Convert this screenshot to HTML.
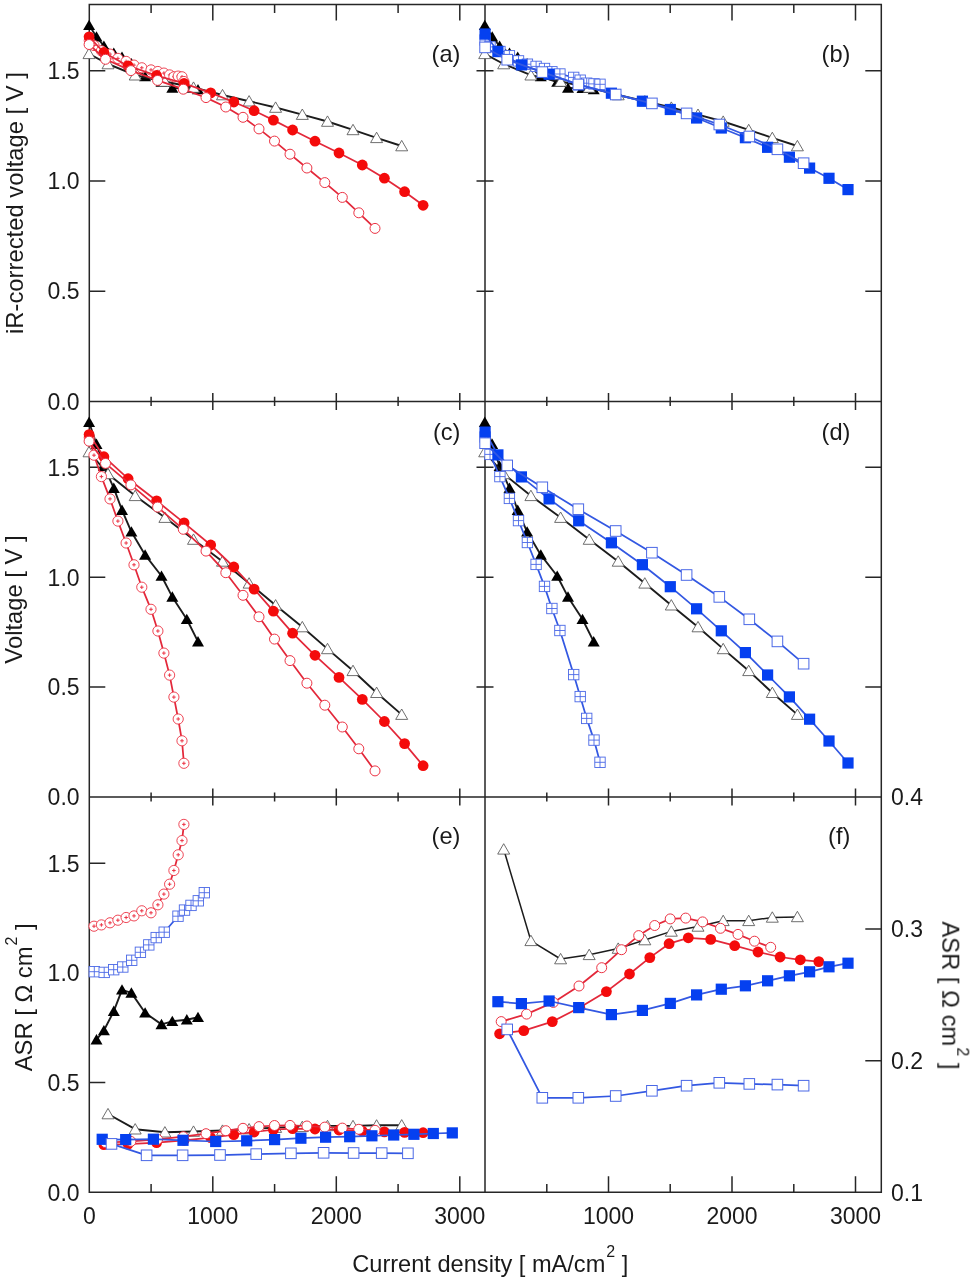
<!DOCTYPE html>
<html><head><meta charset="utf-8"><title>Polarization curves</title>
<style>html,body{margin:0;padding:0;background:#fff}svg{display:block}text{font-family:"Liberation Sans",sans-serif}</style></head>
<body><svg width="971" height="1280" viewBox="0 0 971 1280">
<defs><filter id="soft" x="0" y="0" width="100%" height="100%" filterUnits="userSpaceOnUse" color-interpolation-filters="sRGB"><feGaussianBlur stdDeviation="0.45"/></filter></defs>
<g filter="url(#soft)">
<rect x="0" y="0" width="971" height="1280" fill="#fff"/>
<path d="M89.3 4.6L881.3 4.6M89.3 401.4L881.3 401.4M89.3 797.0L881.3 797.0M89.3 1192.2L881.3 1192.2M89.3 3.8L89.3 1193.0M485.0 4.6L485.0 1192.2M881.3 3.8L881.3 1193.0M151.1 4.6L151.1 12.9M151.1 1192.2L151.1 1183.9M151.1 396.8L151.1 406.0M151.1 792.4L151.1 801.6M212.8 4.6L212.8 20.6M212.8 1192.2L212.8 1176.2M212.8 392.9L212.8 409.9M212.8 788.5L212.8 805.5M274.6 4.6L274.6 12.9M274.6 1192.2L274.6 1183.9M274.6 396.8L274.6 406.0M274.6 792.4L274.6 801.6M336.3 4.6L336.3 20.6M336.3 1192.2L336.3 1176.2M336.3 392.9L336.3 409.9M336.3 788.5L336.3 805.5M398.1 4.6L398.1 12.9M398.1 1192.2L398.1 1183.9M398.1 396.8L398.1 406.0M398.1 792.4L398.1 801.6M459.8 4.6L459.8 20.6M459.8 1192.2L459.8 1176.2M459.8 392.9L459.8 409.9M459.8 788.5L459.8 805.5M546.8 4.6L546.8 12.9M546.8 1192.2L546.8 1183.9M546.8 396.8L546.8 406.0M546.8 792.4L546.8 801.6M608.5 4.6L608.5 20.6M608.5 1192.2L608.5 1176.2M608.5 392.9L608.5 409.9M608.5 788.5L608.5 805.5M670.2 4.6L670.2 12.9M670.2 1192.2L670.2 1183.9M670.2 396.8L670.2 406.0M670.2 792.4L670.2 801.6M732.0 4.6L732.0 20.6M732.0 1192.2L732.0 1176.2M732.0 392.9L732.0 409.9M732.0 788.5L732.0 805.5M793.8 4.6L793.8 12.9M793.8 1192.2L793.8 1183.9M793.8 396.8L793.8 406.0M793.8 792.4L793.8 801.6M855.5 4.6L855.5 20.6M855.5 1192.2L855.5 1176.2M855.5 392.9L855.5 409.9M855.5 788.5L855.5 805.5M89.3 291.2L105.3 291.2M476.5 291.2L493.5 291.2M865.3 291.2L881.3 291.2M89.3 181.0L105.3 181.0M476.5 181.0L493.5 181.0M865.3 181.0L881.3 181.0M89.3 70.8L105.3 70.8M476.5 70.8L493.5 70.8M865.3 70.8L881.3 70.8M89.3 687.1L105.3 687.1M476.5 687.1L493.5 687.1M865.3 687.1L881.3 687.1M89.3 577.2L105.3 577.2M476.5 577.2L493.5 577.2M865.3 577.2L881.3 577.2M89.3 467.3L105.3 467.3M476.5 467.3L493.5 467.3M865.3 467.3L881.3 467.3M89.3 1082.5L105.3 1082.5M89.3 972.9L105.3 972.9M89.3 863.2L105.3 863.2M865.3 1060.7L881.3 1060.7M865.3 928.9L881.3 928.9" stroke="#262626" stroke-width="1.5" fill="none"/>
<g>
<polyline fill="none" stroke="#1c1c1c" stroke-width="1.90" stroke-linejoin="round" points="89.1,25.3 96.5,36.8 103.9,46.0 113.8,53.0 122.0,57.0 131.4,63.5 145.1,76.5 161.5,82.0 172.3,88.0 186.8,88.3 198.0,89.5"/><path d="M89.1 19.7L95.1 30.1L83.1 30.1Z" fill="#000"/><path d="M96.5 31.2L102.5 41.6L90.5 41.6Z" fill="#000"/><path d="M103.9 40.4L109.9 50.8L97.9 50.8Z" fill="#000"/><path d="M113.8 47.4L119.8 57.8L107.8 57.8Z" fill="#000"/><path d="M122.0 51.4L128.0 61.8L116.0 61.8Z" fill="#000"/><path d="M131.4 57.9L137.4 68.3L125.4 68.3Z" fill="#000"/><path d="M145.1 70.9L151.1 81.3L139.1 81.3Z" fill="#000"/><path d="M161.5 76.4L167.5 86.8L155.5 86.8Z" fill="#000"/><path d="M172.3 82.4L178.3 92.8L166.3 92.8Z" fill="#000"/><path d="M186.8 82.7L192.8 93.1L180.8 93.1Z" fill="#000"/><path d="M198.0 83.9L204.0 94.3L192.0 94.3Z" fill="#000"/>
<polyline fill="none" stroke="#1c1c1c" stroke-width="1.90" stroke-linejoin="round" points="89.0,53.8 108.0,64.0 135.2,75.2 164.9,81.5 193.5,87.5 222.5,95.0 249.1,101.2 275.6,107.5 302.3,114.6 327.5,121.5 353.0,129.9 376.6,137.8 401.7,146.0"/><path d="M89.0 48.2L95.0 58.6L83.0 58.6Z" fill="#fff" stroke="#555" stroke-width="0.85"/><path d="M108.0 58.4L114.0 68.8L102.0 68.8Z" fill="#fff" stroke="#555" stroke-width="0.85"/><path d="M135.2 69.6L141.2 80.0L129.2 80.0Z" fill="#fff" stroke="#555" stroke-width="0.85"/><path d="M164.9 75.9L170.9 86.3L158.9 86.3Z" fill="#fff" stroke="#555" stroke-width="0.85"/><path d="M193.5 81.9L199.5 92.3L187.5 92.3Z" fill="#fff" stroke="#555" stroke-width="0.85"/><path d="M222.5 89.4L228.5 99.8L216.5 99.8Z" fill="#fff" stroke="#555" stroke-width="0.85"/><path d="M249.1 95.6L255.1 106.0L243.1 106.0Z" fill="#fff" stroke="#555" stroke-width="0.85"/><path d="M275.6 101.9L281.6 112.3L269.6 112.3Z" fill="#fff" stroke="#555" stroke-width="0.85"/><path d="M302.3 109.0L308.3 119.4L296.3 119.4Z" fill="#fff" stroke="#555" stroke-width="0.85"/><path d="M327.5 115.9L333.5 126.3L321.5 126.3Z" fill="#fff" stroke="#555" stroke-width="0.85"/><path d="M353.0 124.3L359.0 134.7L347.0 134.7Z" fill="#fff" stroke="#555" stroke-width="0.85"/><path d="M376.6 132.2L382.6 142.6L370.6 142.6Z" fill="#fff" stroke="#555" stroke-width="0.85"/><path d="M401.7 140.4L407.7 150.8L395.7 150.8Z" fill="#fff" stroke="#555" stroke-width="0.85"/>
<polyline fill="none" stroke="#e3283a" stroke-width="1.75" stroke-linejoin="round" points="89.3,40.5 94.0,45.5 101.4,50.8 110.0,54.1 117.9,58.4 126.1,61.4 134.0,65.1 141.8,67.8 151.0,69.9 157.9,71.5 163.9,73.1 169.6,74.9 173.9,76.8 178.2,76.1 182.0,76.8 183.9,81.5"/><circle cx="89.3" cy="40.5" r="5.1" fill="#fff" stroke="#ec3344" stroke-width="0.9"/><path d="M87.5 40.5h3.6M89.3 38.7v3.6" stroke="#ec3344" stroke-width="1" fill="none"/><circle cx="94.0" cy="45.5" r="5.1" fill="#fff" stroke="#ec3344" stroke-width="0.9"/><path d="M92.2 45.5h3.6M94.0 43.7v3.6" stroke="#ec3344" stroke-width="1" fill="none"/><circle cx="101.4" cy="50.8" r="5.1" fill="#fff" stroke="#ec3344" stroke-width="0.9"/><path d="M99.6 50.8h3.6M101.4 49.0v3.6" stroke="#ec3344" stroke-width="1" fill="none"/><circle cx="110.0" cy="54.1" r="5.1" fill="#fff" stroke="#ec3344" stroke-width="0.9"/><path d="M108.2 54.1h3.6M110.0 52.3v3.6" stroke="#ec3344" stroke-width="1" fill="none"/><circle cx="117.9" cy="58.4" r="5.1" fill="#fff" stroke="#ec3344" stroke-width="0.9"/><path d="M116.1 58.4h3.6M117.9 56.6v3.6" stroke="#ec3344" stroke-width="1" fill="none"/><circle cx="126.1" cy="61.4" r="5.1" fill="#fff" stroke="#ec3344" stroke-width="0.9"/><path d="M124.3 61.4h3.6M126.1 59.6v3.6" stroke="#ec3344" stroke-width="1" fill="none"/><circle cx="134.0" cy="65.1" r="5.1" fill="#fff" stroke="#ec3344" stroke-width="0.9"/><path d="M132.2 65.1h3.6M134.0 63.3v3.6" stroke="#ec3344" stroke-width="1" fill="none"/><circle cx="141.8" cy="67.8" r="5.1" fill="#fff" stroke="#ec3344" stroke-width="0.9"/><path d="M140.0 67.8h3.6M141.8 66.0v3.6" stroke="#ec3344" stroke-width="1" fill="none"/><circle cx="151.0" cy="69.9" r="5.1" fill="#fff" stroke="#ec3344" stroke-width="0.9"/><path d="M149.2 69.9h3.6M151.0 68.1v3.6" stroke="#ec3344" stroke-width="1" fill="none"/><circle cx="157.9" cy="71.5" r="5.1" fill="#fff" stroke="#ec3344" stroke-width="0.9"/><path d="M156.1 71.5h3.6M157.9 69.7v3.6" stroke="#ec3344" stroke-width="1" fill="none"/><circle cx="163.9" cy="73.1" r="5.1" fill="#fff" stroke="#ec3344" stroke-width="0.9"/><path d="M162.1 73.1h3.6M163.9 71.3v3.6" stroke="#ec3344" stroke-width="1" fill="none"/><circle cx="169.6" cy="74.9" r="5.1" fill="#fff" stroke="#ec3344" stroke-width="0.9"/><path d="M167.8 74.9h3.6M169.6 73.1v3.6" stroke="#ec3344" stroke-width="1" fill="none"/><circle cx="173.9" cy="76.8" r="5.1" fill="#fff" stroke="#ec3344" stroke-width="0.9"/><path d="M172.1 76.8h3.6M173.9 75.0v3.6" stroke="#ec3344" stroke-width="1" fill="none"/><circle cx="178.2" cy="76.1" r="5.1" fill="#fff" stroke="#ec3344" stroke-width="0.9"/><path d="M176.4 76.1h3.6M178.2 74.3v3.6" stroke="#ec3344" stroke-width="1" fill="none"/><circle cx="182.0" cy="76.8" r="5.1" fill="#fff" stroke="#ec3344" stroke-width="0.9"/><path d="M180.2 76.8h3.6M182.0 75.0v3.6" stroke="#ec3344" stroke-width="1" fill="none"/><circle cx="183.9" cy="81.5" r="5.1" fill="#fff" stroke="#ec3344" stroke-width="0.9"/><path d="M182.1 81.5h3.6M183.9 79.7v3.6" stroke="#ec3344" stroke-width="1" fill="none"/>
<polyline fill="none" stroke="#e3283a" stroke-width="1.75" stroke-linejoin="round" points="89.1,36.8 103.9,52.5 128.1,65.9 156.6,75.5 184.1,83.4 210.7,92.9 233.8,102.0 254.1,110.7 273.4,120.1 292.6,130.0 315.0,141.2 339.0,153.0 362.3,165.0 384.4,178.2 404.6,191.7 423.1,205.3"/><circle cx="89.1" cy="36.8" r="5.4" fill="#f40b0b"/><circle cx="103.9" cy="52.5" r="5.4" fill="#f40b0b"/><circle cx="128.1" cy="65.9" r="5.4" fill="#f40b0b"/><circle cx="156.6" cy="75.5" r="5.4" fill="#f40b0b"/><circle cx="184.1" cy="83.4" r="5.4" fill="#f40b0b"/><circle cx="210.7" cy="92.9" r="5.4" fill="#f40b0b"/><circle cx="233.8" cy="102.0" r="5.4" fill="#f40b0b"/><circle cx="254.1" cy="110.7" r="5.4" fill="#f40b0b"/><circle cx="273.4" cy="120.1" r="5.4" fill="#f40b0b"/><circle cx="292.6" cy="130.0" r="5.4" fill="#f40b0b"/><circle cx="315.0" cy="141.2" r="5.4" fill="#f40b0b"/><circle cx="339.0" cy="153.0" r="5.4" fill="#f40b0b"/><circle cx="362.3" cy="165.0" r="5.4" fill="#f40b0b"/><circle cx="384.4" cy="178.2" r="5.4" fill="#f40b0b"/><circle cx="404.6" cy="191.7" r="5.4" fill="#f40b0b"/><circle cx="423.1" cy="205.3" r="5.4" fill="#f40b0b"/>
<polyline fill="none" stroke="#e3283a" stroke-width="1.75" stroke-linejoin="round" points="89.1,44.5 105.5,59.3 130.9,70.6 157.6,80.4 183.3,89.2 206.0,97.6 225.8,107.0 243.0,117.3 259.0,128.9 274.5,141.1 290.0,154.2 306.9,168.0 324.8,182.6 342.3,197.4 358.8,212.8 375.0,228.4"/><circle cx="89.1" cy="44.5" r="5" fill="#fff" stroke="#ec3344" stroke-width="1"/><circle cx="105.5" cy="59.3" r="5" fill="#fff" stroke="#ec3344" stroke-width="1"/><circle cx="130.9" cy="70.6" r="5" fill="#fff" stroke="#ec3344" stroke-width="1"/><circle cx="157.6" cy="80.4" r="5" fill="#fff" stroke="#ec3344" stroke-width="1"/><circle cx="183.3" cy="89.2" r="5" fill="#fff" stroke="#ec3344" stroke-width="1"/><circle cx="206.0" cy="97.6" r="5" fill="#fff" stroke="#ec3344" stroke-width="1"/><circle cx="225.8" cy="107.0" r="5" fill="#fff" stroke="#ec3344" stroke-width="1"/><circle cx="243.0" cy="117.3" r="5" fill="#fff" stroke="#ec3344" stroke-width="1"/><circle cx="259.0" cy="128.9" r="5" fill="#fff" stroke="#ec3344" stroke-width="1"/><circle cx="274.5" cy="141.1" r="5" fill="#fff" stroke="#ec3344" stroke-width="1"/><circle cx="290.0" cy="154.2" r="5" fill="#fff" stroke="#ec3344" stroke-width="1"/><circle cx="306.9" cy="168.0" r="5" fill="#fff" stroke="#ec3344" stroke-width="1"/><circle cx="324.8" cy="182.6" r="5" fill="#fff" stroke="#ec3344" stroke-width="1"/><circle cx="342.3" cy="197.4" r="5" fill="#fff" stroke="#ec3344" stroke-width="1"/><circle cx="358.8" cy="212.8" r="5" fill="#fff" stroke="#ec3344" stroke-width="1"/><circle cx="375.0" cy="228.4" r="5" fill="#fff" stroke="#ec3344" stroke-width="1"/>
</g>
<g>
<polyline fill="none" stroke="#1c1c1c" stroke-width="1.90" stroke-linejoin="round" points="484.8,25.3 492.2,36.8 499.6,46.0 509.5,53.0 517.7,57.0 527.1,63.5 540.8,76.5 557.2,82.0 568.0,88.0 582.5,88.3 593.7,89.5"/><path d="M484.8 19.7L490.8 30.1L478.8 30.1Z" fill="#000"/><path d="M492.2 31.2L498.2 41.6L486.2 41.6Z" fill="#000"/><path d="M499.6 40.4L505.6 50.8L493.6 50.8Z" fill="#000"/><path d="M509.5 47.4L515.5 57.8L503.5 57.8Z" fill="#000"/><path d="M517.7 51.4L523.7 61.8L511.7 61.8Z" fill="#000"/><path d="M527.1 57.9L533.1 68.3L521.1 68.3Z" fill="#000"/><path d="M540.8 70.9L546.8 81.3L534.8 81.3Z" fill="#000"/><path d="M557.2 76.4L563.2 86.8L551.2 86.8Z" fill="#000"/><path d="M568.0 82.4L574.0 92.8L562.0 92.8Z" fill="#000"/><path d="M582.5 82.7L588.5 93.1L576.5 93.1Z" fill="#000"/><path d="M593.7 83.9L599.7 94.3L587.7 94.3Z" fill="#000"/>
<polyline fill="none" stroke="#1c1c1c" stroke-width="1.90" stroke-linejoin="round" points="484.7,53.8 503.7,64.0 530.9,75.2 560.6,81.5 589.2,87.5 618.2,95.0 644.8,101.2 671.3,107.5 698.0,114.6 723.2,121.5 748.7,129.9 772.3,137.8 797.4,146.0"/><path d="M484.7 48.2L490.7 58.6L478.7 58.6Z" fill="#fff" stroke="#555" stroke-width="0.85"/><path d="M503.7 58.4L509.7 68.8L497.7 68.8Z" fill="#fff" stroke="#555" stroke-width="0.85"/><path d="M530.9 69.6L536.9 80.0L524.9 80.0Z" fill="#fff" stroke="#555" stroke-width="0.85"/><path d="M560.6 75.9L566.6 86.3L554.6 86.3Z" fill="#fff" stroke="#555" stroke-width="0.85"/><path d="M589.2 81.9L595.2 92.3L583.2 92.3Z" fill="#fff" stroke="#555" stroke-width="0.85"/><path d="M618.2 89.4L624.2 99.8L612.2 99.8Z" fill="#fff" stroke="#555" stroke-width="0.85"/><path d="M644.8 95.6L650.8 106.0L638.8 106.0Z" fill="#fff" stroke="#555" stroke-width="0.85"/><path d="M671.3 101.9L677.3 112.3L665.3 112.3Z" fill="#fff" stroke="#555" stroke-width="0.85"/><path d="M698.0 109.0L704.0 119.4L692.0 119.4Z" fill="#fff" stroke="#555" stroke-width="0.85"/><path d="M723.2 115.9L729.2 126.3L717.2 126.3Z" fill="#fff" stroke="#555" stroke-width="0.85"/><path d="M748.7 124.3L754.7 134.7L742.7 134.7Z" fill="#fff" stroke="#555" stroke-width="0.85"/><path d="M772.3 132.2L778.3 142.6L766.3 142.6Z" fill="#fff" stroke="#555" stroke-width="0.85"/><path d="M797.4 140.4L803.4 150.8L791.4 150.8Z" fill="#fff" stroke="#555" stroke-width="0.85"/>
<polyline fill="none" stroke="#3358e2" stroke-width="1.75" stroke-linejoin="round" points="485.1,40.0 490.0,46.9 499.9,51.5 509.4,55.8 518.5,60.9 527.4,64.2 536.1,66.4 544.5,68.5 551.9,71.8 559.9,74.0 573.7,77.4 580.2,80.2 586.7,83.2 594.0,83.9 600.0,84.3"/><rect x="479.9" y="34.8" width="10.4" height="10.4" fill="#fff" stroke="#4a68e6" stroke-width="0.9"/><path d="M479.9 40.0h10.4M485.1 34.8v10.4" stroke="#4a68e6" stroke-width="0.9" fill="none"/><rect x="484.8" y="41.7" width="10.4" height="10.4" fill="#fff" stroke="#4a68e6" stroke-width="0.9"/><path d="M484.8 46.9h10.4M490.0 41.7v10.4" stroke="#4a68e6" stroke-width="0.9" fill="none"/><rect x="494.7" y="46.3" width="10.4" height="10.4" fill="#fff" stroke="#4a68e6" stroke-width="0.9"/><path d="M494.7 51.5h10.4M499.9 46.3v10.4" stroke="#4a68e6" stroke-width="0.9" fill="none"/><rect x="504.2" y="50.6" width="10.4" height="10.4" fill="#fff" stroke="#4a68e6" stroke-width="0.9"/><path d="M504.2 55.8h10.4M509.4 50.6v10.4" stroke="#4a68e6" stroke-width="0.9" fill="none"/><rect x="513.3" y="55.7" width="10.4" height="10.4" fill="#fff" stroke="#4a68e6" stroke-width="0.9"/><path d="M513.3 60.9h10.4M518.5 55.7v10.4" stroke="#4a68e6" stroke-width="0.9" fill="none"/><rect x="522.2" y="59.0" width="10.4" height="10.4" fill="#fff" stroke="#4a68e6" stroke-width="0.9"/><path d="M522.2 64.2h10.4M527.4 59.0v10.4" stroke="#4a68e6" stroke-width="0.9" fill="none"/><rect x="530.9" y="61.2" width="10.4" height="10.4" fill="#fff" stroke="#4a68e6" stroke-width="0.9"/><path d="M530.9 66.4h10.4M536.1 61.2v10.4" stroke="#4a68e6" stroke-width="0.9" fill="none"/><rect x="539.3" y="63.3" width="10.4" height="10.4" fill="#fff" stroke="#4a68e6" stroke-width="0.9"/><path d="M539.3 68.5h10.4M544.5 63.3v10.4" stroke="#4a68e6" stroke-width="0.9" fill="none"/><rect x="546.7" y="66.6" width="10.4" height="10.4" fill="#fff" stroke="#4a68e6" stroke-width="0.9"/><path d="M546.7 71.8h10.4M551.9 66.6v10.4" stroke="#4a68e6" stroke-width="0.9" fill="none"/><rect x="554.7" y="68.8" width="10.4" height="10.4" fill="#fff" stroke="#4a68e6" stroke-width="0.9"/><path d="M554.7 74.0h10.4M559.9 68.8v10.4" stroke="#4a68e6" stroke-width="0.9" fill="none"/><rect x="568.5" y="72.2" width="10.4" height="10.4" fill="#fff" stroke="#4a68e6" stroke-width="0.9"/><path d="M568.5 77.4h10.4M573.7 72.2v10.4" stroke="#4a68e6" stroke-width="0.9" fill="none"/><rect x="575.0" y="75.0" width="10.4" height="10.4" fill="#fff" stroke="#4a68e6" stroke-width="0.9"/><path d="M575.0 80.2h10.4M580.2 75.0v10.4" stroke="#4a68e6" stroke-width="0.9" fill="none"/><rect x="581.5" y="78.0" width="10.4" height="10.4" fill="#fff" stroke="#4a68e6" stroke-width="0.9"/><path d="M581.5 83.2h10.4M586.7 78.0v10.4" stroke="#4a68e6" stroke-width="0.9" fill="none"/><rect x="588.8" y="78.7" width="10.4" height="10.4" fill="#fff" stroke="#4a68e6" stroke-width="0.9"/><path d="M588.8 83.9h10.4M594.0 78.7v10.4" stroke="#4a68e6" stroke-width="0.9" fill="none"/><rect x="594.8" y="79.1" width="10.4" height="10.4" fill="#fff" stroke="#4a68e6" stroke-width="0.9"/><path d="M594.8 84.3h10.4M600.0 79.1v10.4" stroke="#4a68e6" stroke-width="0.9" fill="none"/>
<polyline fill="none" stroke="#3358e2" stroke-width="1.75" stroke-linejoin="round" points="485.1,34.0 497.9,51.5 521.4,64.9 549.1,74.2 578.7,84.8 611.4,93.2 642.4,101.2 670.3,109.5 696.6,118.0 721.3,128.0 745.4,137.7 767.6,147.3 789.4,157.2 809.6,168.1 829.0,178.3 848.0,189.6"/><rect x="479.5" y="28.4" width="11.2" height="11.2" fill="#0540f0"/><rect x="492.3" y="45.9" width="11.2" height="11.2" fill="#0540f0"/><rect x="515.8" y="59.3" width="11.2" height="11.2" fill="#0540f0"/><rect x="543.5" y="68.6" width="11.2" height="11.2" fill="#0540f0"/><rect x="573.1" y="79.2" width="11.2" height="11.2" fill="#0540f0"/><rect x="605.8" y="87.6" width="11.2" height="11.2" fill="#0540f0"/><rect x="636.8" y="95.6" width="11.2" height="11.2" fill="#0540f0"/><rect x="664.7" y="103.9" width="11.2" height="11.2" fill="#0540f0"/><rect x="691.0" y="112.4" width="11.2" height="11.2" fill="#0540f0"/><rect x="715.7" y="122.4" width="11.2" height="11.2" fill="#0540f0"/><rect x="739.8" y="132.1" width="11.2" height="11.2" fill="#0540f0"/><rect x="762.0" y="141.7" width="11.2" height="11.2" fill="#0540f0"/><rect x="783.8" y="151.6" width="11.2" height="11.2" fill="#0540f0"/><rect x="804.0" y="162.5" width="11.2" height="11.2" fill="#0540f0"/><rect x="823.4" y="172.7" width="11.2" height="11.2" fill="#0540f0"/><rect x="842.4" y="184.0" width="11.2" height="11.2" fill="#0540f0"/>
<polyline fill="none" stroke="#3358e2" stroke-width="1.75" stroke-linejoin="round" points="485.1,47.4 507.2,59.7 542.3,72.1 578.3,84.4 615.7,94.5 651.9,103.4 686.6,113.4 719.3,124.5 749.3,136.5 777.4,149.3 803.6,163.2"/><rect x="479.8" y="42.1" width="10.6" height="10.6" fill="#fff" stroke="#4a68e6" stroke-width="1"/><rect x="501.9" y="54.4" width="10.6" height="10.6" fill="#fff" stroke="#4a68e6" stroke-width="1"/><rect x="537.0" y="66.8" width="10.6" height="10.6" fill="#fff" stroke="#4a68e6" stroke-width="1"/><rect x="573.0" y="79.1" width="10.6" height="10.6" fill="#fff" stroke="#4a68e6" stroke-width="1"/><rect x="610.4" y="89.2" width="10.6" height="10.6" fill="#fff" stroke="#4a68e6" stroke-width="1"/><rect x="646.6" y="98.1" width="10.6" height="10.6" fill="#fff" stroke="#4a68e6" stroke-width="1"/><rect x="681.3" y="108.1" width="10.6" height="10.6" fill="#fff" stroke="#4a68e6" stroke-width="1"/><rect x="714.0" y="119.2" width="10.6" height="10.6" fill="#fff" stroke="#4a68e6" stroke-width="1"/><rect x="744.0" y="131.2" width="10.6" height="10.6" fill="#fff" stroke="#4a68e6" stroke-width="1"/><rect x="772.1" y="144.0" width="10.6" height="10.6" fill="#fff" stroke="#4a68e6" stroke-width="1"/><rect x="798.3" y="157.9" width="10.6" height="10.6" fill="#fff" stroke="#4a68e6" stroke-width="1"/>
</g>
<g>
<polyline fill="none" stroke="#1c1c1c" stroke-width="1.90" stroke-linejoin="round" points="89.1,422.2 96.5,444.2 103.9,466.2 113.8,488.2 122.0,510.1 131.4,531.8 145.1,554.9 161.5,576.0 172.3,596.9 186.8,619.3 198.0,641.6"/><path d="M89.1 416.6L95.1 427.0L83.1 427.0Z" fill="#000"/><path d="M96.5 438.6L102.5 449.0L90.5 449.0Z" fill="#000"/><path d="M103.9 460.6L109.9 471.0L97.9 471.0Z" fill="#000"/><path d="M113.8 482.6L119.8 493.0L107.8 493.0Z" fill="#000"/><path d="M122.0 504.5L128.0 514.9L116.0 514.9Z" fill="#000"/><path d="M131.4 526.2L137.4 536.6L125.4 536.6Z" fill="#000"/><path d="M145.1 549.3L151.1 559.7L139.1 559.7Z" fill="#000"/><path d="M161.5 570.4L167.5 580.8L155.5 580.8Z" fill="#000"/><path d="M172.3 591.3L178.3 601.7L166.3 601.7Z" fill="#000"/><path d="M186.8 613.7L192.8 624.1L180.8 624.1Z" fill="#000"/><path d="M198.0 636.0L204.0 646.4L192.0 646.4Z" fill="#000"/>
<polyline fill="none" stroke="#1c1c1c" stroke-width="1.90" stroke-linejoin="round" points="89.0,452.0 108.0,473.9 135.2,495.8 164.9,517.6 193.5,539.5 222.5,561.4 249.1,583.3 275.6,605.2 302.3,627.0 327.5,648.9 353.0,670.8 376.6,692.7 401.7,714.6"/><path d="M89.0 446.4L95.0 456.8L83.0 456.8Z" fill="#fff" stroke="#555" stroke-width="0.85"/><path d="M108.0 468.3L114.0 478.7L102.0 478.7Z" fill="#fff" stroke="#555" stroke-width="0.85"/><path d="M135.2 490.2L141.2 500.6L129.2 500.6Z" fill="#fff" stroke="#555" stroke-width="0.85"/><path d="M164.9 512.0L170.9 522.4L158.9 522.4Z" fill="#fff" stroke="#555" stroke-width="0.85"/><path d="M193.5 533.9L199.5 544.3L187.5 544.3Z" fill="#fff" stroke="#555" stroke-width="0.85"/><path d="M222.5 555.8L228.5 566.2L216.5 566.2Z" fill="#fff" stroke="#555" stroke-width="0.85"/><path d="M249.1 577.7L255.1 588.1L243.1 588.1Z" fill="#fff" stroke="#555" stroke-width="0.85"/><path d="M275.6 599.6L281.6 610.0L269.6 610.0Z" fill="#fff" stroke="#555" stroke-width="0.85"/><path d="M302.3 621.4L308.3 631.8L296.3 631.8Z" fill="#fff" stroke="#555" stroke-width="0.85"/><path d="M327.5 643.3L333.5 653.7L321.5 653.7Z" fill="#fff" stroke="#555" stroke-width="0.85"/><path d="M353.0 665.2L359.0 675.6L347.0 675.6Z" fill="#fff" stroke="#555" stroke-width="0.85"/><path d="M376.6 687.1L382.6 697.5L370.6 697.5Z" fill="#fff" stroke="#555" stroke-width="0.85"/><path d="M401.7 709.0L407.7 719.4L395.7 719.4Z" fill="#fff" stroke="#555" stroke-width="0.85"/>
<polyline fill="none" stroke="#e3283a" stroke-width="1.75" stroke-linejoin="round" points="89.3,437.5 94.0,455.2 101.4,476.6 110.0,498.9 117.9,521.1 126.1,543.0 134.0,564.8 141.8,587.2 151.0,609.3 157.9,631.0 163.9,653.1 169.6,675.1 173.9,697.1 178.2,719.0 182.0,740.8 183.9,763.3"/><circle cx="89.3" cy="437.5" r="5.1" fill="#fff" stroke="#ec3344" stroke-width="0.9"/><path d="M87.5 437.5h3.6M89.3 435.7v3.6" stroke="#ec3344" stroke-width="1" fill="none"/><circle cx="94.0" cy="455.2" r="5.1" fill="#fff" stroke="#ec3344" stroke-width="0.9"/><path d="M92.2 455.2h3.6M94.0 453.4v3.6" stroke="#ec3344" stroke-width="1" fill="none"/><circle cx="101.4" cy="476.6" r="5.1" fill="#fff" stroke="#ec3344" stroke-width="0.9"/><path d="M99.6 476.6h3.6M101.4 474.8v3.6" stroke="#ec3344" stroke-width="1" fill="none"/><circle cx="110.0" cy="498.9" r="5.1" fill="#fff" stroke="#ec3344" stroke-width="0.9"/><path d="M108.2 498.9h3.6M110.0 497.1v3.6" stroke="#ec3344" stroke-width="1" fill="none"/><circle cx="117.9" cy="521.1" r="5.1" fill="#fff" stroke="#ec3344" stroke-width="0.9"/><path d="M116.1 521.1h3.6M117.9 519.3v3.6" stroke="#ec3344" stroke-width="1" fill="none"/><circle cx="126.1" cy="543.0" r="5.1" fill="#fff" stroke="#ec3344" stroke-width="0.9"/><path d="M124.3 543.0h3.6M126.1 541.2v3.6" stroke="#ec3344" stroke-width="1" fill="none"/><circle cx="134.0" cy="564.8" r="5.1" fill="#fff" stroke="#ec3344" stroke-width="0.9"/><path d="M132.2 564.8h3.6M134.0 563.0v3.6" stroke="#ec3344" stroke-width="1" fill="none"/><circle cx="141.8" cy="587.2" r="5.1" fill="#fff" stroke="#ec3344" stroke-width="0.9"/><path d="M140.0 587.2h3.6M141.8 585.4v3.6" stroke="#ec3344" stroke-width="1" fill="none"/><circle cx="151.0" cy="609.3" r="5.1" fill="#fff" stroke="#ec3344" stroke-width="0.9"/><path d="M149.2 609.3h3.6M151.0 607.5v3.6" stroke="#ec3344" stroke-width="1" fill="none"/><circle cx="157.9" cy="631.0" r="5.1" fill="#fff" stroke="#ec3344" stroke-width="0.9"/><path d="M156.1 631.0h3.6M157.9 629.2v3.6" stroke="#ec3344" stroke-width="1" fill="none"/><circle cx="163.9" cy="653.1" r="5.1" fill="#fff" stroke="#ec3344" stroke-width="0.9"/><path d="M162.1 653.1h3.6M163.9 651.3v3.6" stroke="#ec3344" stroke-width="1" fill="none"/><circle cx="169.6" cy="675.1" r="5.1" fill="#fff" stroke="#ec3344" stroke-width="0.9"/><path d="M167.8 675.1h3.6M169.6 673.3v3.6" stroke="#ec3344" stroke-width="1" fill="none"/><circle cx="173.9" cy="697.1" r="5.1" fill="#fff" stroke="#ec3344" stroke-width="0.9"/><path d="M172.1 697.1h3.6M173.9 695.3v3.6" stroke="#ec3344" stroke-width="1" fill="none"/><circle cx="178.2" cy="719.0" r="5.1" fill="#fff" stroke="#ec3344" stroke-width="0.9"/><path d="M176.4 719.0h3.6M178.2 717.2v3.6" stroke="#ec3344" stroke-width="1" fill="none"/><circle cx="182.0" cy="740.8" r="5.1" fill="#fff" stroke="#ec3344" stroke-width="0.9"/><path d="M180.2 740.8h3.6M182.0 739.0v3.6" stroke="#ec3344" stroke-width="1" fill="none"/><circle cx="183.9" cy="763.3" r="5.1" fill="#fff" stroke="#ec3344" stroke-width="0.9"/><path d="M182.1 763.3h3.6M183.9 761.5v3.6" stroke="#ec3344" stroke-width="1" fill="none"/>
<polyline fill="none" stroke="#e3283a" stroke-width="1.75" stroke-linejoin="round" points="89.1,434.6 103.9,456.7 128.1,478.7 156.6,500.8 184.1,522.9 210.7,545.0 233.8,567.0 254.1,589.1 273.4,611.2 292.6,633.2 315.0,655.3 339.0,677.4 362.3,699.4 384.4,721.5 404.6,743.6 423.1,765.7"/><circle cx="89.1" cy="434.6" r="5.4" fill="#f40b0b"/><circle cx="103.9" cy="456.7" r="5.4" fill="#f40b0b"/><circle cx="128.1" cy="478.7" r="5.4" fill="#f40b0b"/><circle cx="156.6" cy="500.8" r="5.4" fill="#f40b0b"/><circle cx="184.1" cy="522.9" r="5.4" fill="#f40b0b"/><circle cx="210.7" cy="545.0" r="5.4" fill="#f40b0b"/><circle cx="233.8" cy="567.0" r="5.4" fill="#f40b0b"/><circle cx="254.1" cy="589.1" r="5.4" fill="#f40b0b"/><circle cx="273.4" cy="611.2" r="5.4" fill="#f40b0b"/><circle cx="292.6" cy="633.2" r="5.4" fill="#f40b0b"/><circle cx="315.0" cy="655.3" r="5.4" fill="#f40b0b"/><circle cx="339.0" cy="677.4" r="5.4" fill="#f40b0b"/><circle cx="362.3" cy="699.4" r="5.4" fill="#f40b0b"/><circle cx="384.4" cy="721.5" r="5.4" fill="#f40b0b"/><circle cx="404.6" cy="743.6" r="5.4" fill="#f40b0b"/><circle cx="423.1" cy="765.7" r="5.4" fill="#f40b0b"/>
<polyline fill="none" stroke="#e3283a" stroke-width="1.75" stroke-linejoin="round" points="89.1,441.2 105.5,463.4 130.9,484.9 157.6,507.1 183.3,529.3 206.0,551.1 225.8,572.7 243.0,595.3 259.0,616.8 274.5,639.1 290.0,660.6 306.9,683.2 324.8,705.2 342.3,727.0 358.8,748.8 375.0,770.9"/><circle cx="89.1" cy="441.2" r="5" fill="#fff" stroke="#ec3344" stroke-width="1"/><circle cx="105.5" cy="463.4" r="5" fill="#fff" stroke="#ec3344" stroke-width="1"/><circle cx="130.9" cy="484.9" r="5" fill="#fff" stroke="#ec3344" stroke-width="1"/><circle cx="157.6" cy="507.1" r="5" fill="#fff" stroke="#ec3344" stroke-width="1"/><circle cx="183.3" cy="529.3" r="5" fill="#fff" stroke="#ec3344" stroke-width="1"/><circle cx="206.0" cy="551.1" r="5" fill="#fff" stroke="#ec3344" stroke-width="1"/><circle cx="225.8" cy="572.7" r="5" fill="#fff" stroke="#ec3344" stroke-width="1"/><circle cx="243.0" cy="595.3" r="5" fill="#fff" stroke="#ec3344" stroke-width="1"/><circle cx="259.0" cy="616.8" r="5" fill="#fff" stroke="#ec3344" stroke-width="1"/><circle cx="274.5" cy="639.1" r="5" fill="#fff" stroke="#ec3344" stroke-width="1"/><circle cx="290.0" cy="660.6" r="5" fill="#fff" stroke="#ec3344" stroke-width="1"/><circle cx="306.9" cy="683.2" r="5" fill="#fff" stroke="#ec3344" stroke-width="1"/><circle cx="324.8" cy="705.2" r="5" fill="#fff" stroke="#ec3344" stroke-width="1"/><circle cx="342.3" cy="727.0" r="5" fill="#fff" stroke="#ec3344" stroke-width="1"/><circle cx="358.8" cy="748.8" r="5" fill="#fff" stroke="#ec3344" stroke-width="1"/><circle cx="375.0" cy="770.9" r="5" fill="#fff" stroke="#ec3344" stroke-width="1"/>
</g>
<g>
<polyline fill="none" stroke="#1c1c1c" stroke-width="1.90" stroke-linejoin="round" points="484.8,422.2 492.2,444.2 499.6,466.2 509.5,488.2 517.7,510.1 527.1,531.8 540.8,554.9 557.2,576.0 568.0,596.9 582.5,619.3 593.7,641.6"/><path d="M484.8 416.6L490.8 427.0L478.8 427.0Z" fill="#000"/><path d="M492.2 438.6L498.2 449.0L486.2 449.0Z" fill="#000"/><path d="M499.6 460.6L505.6 471.0L493.6 471.0Z" fill="#000"/><path d="M509.5 482.6L515.5 493.0L503.5 493.0Z" fill="#000"/><path d="M517.7 504.5L523.7 514.9L511.7 514.9Z" fill="#000"/><path d="M527.1 526.2L533.1 536.6L521.1 536.6Z" fill="#000"/><path d="M540.8 549.3L546.8 559.7L534.8 559.7Z" fill="#000"/><path d="M557.2 570.4L563.2 580.8L551.2 580.8Z" fill="#000"/><path d="M568.0 591.3L574.0 601.7L562.0 601.7Z" fill="#000"/><path d="M582.5 613.7L588.5 624.1L576.5 624.1Z" fill="#000"/><path d="M593.7 636.0L599.7 646.4L587.7 646.4Z" fill="#000"/>
<polyline fill="none" stroke="#1c1c1c" stroke-width="1.90" stroke-linejoin="round" points="484.7,452.0 503.7,473.9 530.9,495.8 560.6,517.6 589.2,539.5 618.2,561.4 644.8,583.3 671.3,605.2 698.0,627.0 723.2,648.9 748.7,670.8 772.3,692.7 797.4,714.6"/><path d="M484.7 446.4L490.7 456.8L478.7 456.8Z" fill="#fff" stroke="#555" stroke-width="0.85"/><path d="M503.7 468.3L509.7 478.7L497.7 478.7Z" fill="#fff" stroke="#555" stroke-width="0.85"/><path d="M530.9 490.2L536.9 500.6L524.9 500.6Z" fill="#fff" stroke="#555" stroke-width="0.85"/><path d="M560.6 512.0L566.6 522.4L554.6 522.4Z" fill="#fff" stroke="#555" stroke-width="0.85"/><path d="M589.2 533.9L595.2 544.3L583.2 544.3Z" fill="#fff" stroke="#555" stroke-width="0.85"/><path d="M618.2 555.8L624.2 566.2L612.2 566.2Z" fill="#fff" stroke="#555" stroke-width="0.85"/><path d="M644.8 577.7L650.8 588.1L638.8 588.1Z" fill="#fff" stroke="#555" stroke-width="0.85"/><path d="M671.3 599.6L677.3 610.0L665.3 610.0Z" fill="#fff" stroke="#555" stroke-width="0.85"/><path d="M698.0 621.4L704.0 631.8L692.0 631.8Z" fill="#fff" stroke="#555" stroke-width="0.85"/><path d="M723.2 643.3L729.2 653.7L717.2 653.7Z" fill="#fff" stroke="#555" stroke-width="0.85"/><path d="M748.7 665.2L754.7 675.6L742.7 675.6Z" fill="#fff" stroke="#555" stroke-width="0.85"/><path d="M772.3 687.1L778.3 697.5L766.3 697.5Z" fill="#fff" stroke="#555" stroke-width="0.85"/><path d="M797.4 709.0L803.4 719.4L791.4 719.4Z" fill="#fff" stroke="#555" stroke-width="0.85"/>
<polyline fill="none" stroke="#3358e2" stroke-width="1.75" stroke-linejoin="round" points="485.1,437.0 490.0,454.4 499.9,476.6 509.4,498.4 518.5,520.6 527.4,542.5 536.1,564.4 544.5,586.4 551.9,608.5 559.9,630.5 573.7,674.6 580.2,696.6 586.7,718.4 594.0,740.1 600.0,762.3"/><rect x="479.9" y="431.8" width="10.4" height="10.4" fill="#fff" stroke="#4a68e6" stroke-width="0.9"/><path d="M479.9 437.0h10.4M485.1 431.8v10.4" stroke="#4a68e6" stroke-width="0.9" fill="none"/><rect x="484.8" y="449.2" width="10.4" height="10.4" fill="#fff" stroke="#4a68e6" stroke-width="0.9"/><path d="M484.8 454.4h10.4M490.0 449.2v10.4" stroke="#4a68e6" stroke-width="0.9" fill="none"/><rect x="494.7" y="471.4" width="10.4" height="10.4" fill="#fff" stroke="#4a68e6" stroke-width="0.9"/><path d="M494.7 476.6h10.4M499.9 471.4v10.4" stroke="#4a68e6" stroke-width="0.9" fill="none"/><rect x="504.2" y="493.2" width="10.4" height="10.4" fill="#fff" stroke="#4a68e6" stroke-width="0.9"/><path d="M504.2 498.4h10.4M509.4 493.2v10.4" stroke="#4a68e6" stroke-width="0.9" fill="none"/><rect x="513.3" y="515.4" width="10.4" height="10.4" fill="#fff" stroke="#4a68e6" stroke-width="0.9"/><path d="M513.3 520.6h10.4M518.5 515.4v10.4" stroke="#4a68e6" stroke-width="0.9" fill="none"/><rect x="522.2" y="537.3" width="10.4" height="10.4" fill="#fff" stroke="#4a68e6" stroke-width="0.9"/><path d="M522.2 542.5h10.4M527.4 537.3v10.4" stroke="#4a68e6" stroke-width="0.9" fill="none"/><rect x="530.9" y="559.2" width="10.4" height="10.4" fill="#fff" stroke="#4a68e6" stroke-width="0.9"/><path d="M530.9 564.4h10.4M536.1 559.2v10.4" stroke="#4a68e6" stroke-width="0.9" fill="none"/><rect x="539.3" y="581.2" width="10.4" height="10.4" fill="#fff" stroke="#4a68e6" stroke-width="0.9"/><path d="M539.3 586.4h10.4M544.5 581.2v10.4" stroke="#4a68e6" stroke-width="0.9" fill="none"/><rect x="546.7" y="603.3" width="10.4" height="10.4" fill="#fff" stroke="#4a68e6" stroke-width="0.9"/><path d="M546.7 608.5h10.4M551.9 603.3v10.4" stroke="#4a68e6" stroke-width="0.9" fill="none"/><rect x="554.7" y="625.3" width="10.4" height="10.4" fill="#fff" stroke="#4a68e6" stroke-width="0.9"/><path d="M554.7 630.5h10.4M559.9 625.3v10.4" stroke="#4a68e6" stroke-width="0.9" fill="none"/><rect x="568.5" y="669.4" width="10.4" height="10.4" fill="#fff" stroke="#4a68e6" stroke-width="0.9"/><path d="M568.5 674.6h10.4M573.7 669.4v10.4" stroke="#4a68e6" stroke-width="0.9" fill="none"/><rect x="575.0" y="691.4" width="10.4" height="10.4" fill="#fff" stroke="#4a68e6" stroke-width="0.9"/><path d="M575.0 696.6h10.4M580.2 691.4v10.4" stroke="#4a68e6" stroke-width="0.9" fill="none"/><rect x="581.5" y="713.2" width="10.4" height="10.4" fill="#fff" stroke="#4a68e6" stroke-width="0.9"/><path d="M581.5 718.4h10.4M586.7 713.2v10.4" stroke="#4a68e6" stroke-width="0.9" fill="none"/><rect x="588.8" y="734.9" width="10.4" height="10.4" fill="#fff" stroke="#4a68e6" stroke-width="0.9"/><path d="M588.8 740.1h10.4M594.0 734.9v10.4" stroke="#4a68e6" stroke-width="0.9" fill="none"/><rect x="594.8" y="757.1" width="10.4" height="10.4" fill="#fff" stroke="#4a68e6" stroke-width="0.9"/><path d="M594.8 762.3h10.4M600.0 757.1v10.4" stroke="#4a68e6" stroke-width="0.9" fill="none"/>
<polyline fill="none" stroke="#3358e2" stroke-width="1.75" stroke-linejoin="round" points="485.1,432.1 497.9,454.9 521.4,476.9 549.1,498.9 578.7,520.8 611.4,542.8 642.4,564.7 670.3,586.7 696.6,608.8 721.3,630.8 745.4,652.6 767.6,675.0 789.4,696.9 809.6,719.2 829.0,741.0 848.0,763.0"/><rect x="479.5" y="426.5" width="11.2" height="11.2" fill="#0540f0"/><rect x="492.3" y="449.3" width="11.2" height="11.2" fill="#0540f0"/><rect x="515.8" y="471.3" width="11.2" height="11.2" fill="#0540f0"/><rect x="543.5" y="493.3" width="11.2" height="11.2" fill="#0540f0"/><rect x="573.1" y="515.2" width="11.2" height="11.2" fill="#0540f0"/><rect x="605.8" y="537.2" width="11.2" height="11.2" fill="#0540f0"/><rect x="636.8" y="559.1" width="11.2" height="11.2" fill="#0540f0"/><rect x="664.7" y="581.1" width="11.2" height="11.2" fill="#0540f0"/><rect x="691.0" y="603.2" width="11.2" height="11.2" fill="#0540f0"/><rect x="715.7" y="625.2" width="11.2" height="11.2" fill="#0540f0"/><rect x="739.8" y="647.0" width="11.2" height="11.2" fill="#0540f0"/><rect x="762.0" y="669.4" width="11.2" height="11.2" fill="#0540f0"/><rect x="783.8" y="691.3" width="11.2" height="11.2" fill="#0540f0"/><rect x="804.0" y="713.6" width="11.2" height="11.2" fill="#0540f0"/><rect x="823.4" y="735.4" width="11.2" height="11.2" fill="#0540f0"/><rect x="842.4" y="757.4" width="11.2" height="11.2" fill="#0540f0"/>
<polyline fill="none" stroke="#3358e2" stroke-width="1.75" stroke-linejoin="round" points="485.1,443.2 507.2,465.4 542.3,487.3 578.3,509.2 615.7,531.0 651.9,552.7 686.6,575.0 719.3,596.9 749.3,619.3 777.4,641.4 803.6,663.7"/><rect x="479.8" y="437.9" width="10.6" height="10.6" fill="#fff" stroke="#4a68e6" stroke-width="1"/><rect x="501.9" y="460.1" width="10.6" height="10.6" fill="#fff" stroke="#4a68e6" stroke-width="1"/><rect x="537.0" y="482.0" width="10.6" height="10.6" fill="#fff" stroke="#4a68e6" stroke-width="1"/><rect x="573.0" y="503.9" width="10.6" height="10.6" fill="#fff" stroke="#4a68e6" stroke-width="1"/><rect x="610.4" y="525.7" width="10.6" height="10.6" fill="#fff" stroke="#4a68e6" stroke-width="1"/><rect x="646.6" y="547.4" width="10.6" height="10.6" fill="#fff" stroke="#4a68e6" stroke-width="1"/><rect x="681.3" y="569.7" width="10.6" height="10.6" fill="#fff" stroke="#4a68e6" stroke-width="1"/><rect x="714.0" y="591.6" width="10.6" height="10.6" fill="#fff" stroke="#4a68e6" stroke-width="1"/><rect x="744.0" y="614.0" width="10.6" height="10.6" fill="#fff" stroke="#4a68e6" stroke-width="1"/><rect x="772.1" y="636.1" width="10.6" height="10.6" fill="#fff" stroke="#4a68e6" stroke-width="1"/><rect x="798.3" y="658.4" width="10.6" height="10.6" fill="#fff" stroke="#4a68e6" stroke-width="1"/>
</g>
<g>
<polyline fill="none" stroke="#1c1c1c" stroke-width="1.90" stroke-linejoin="round" points="96.5,1039.6 103.9,1030.5 113.8,1011.2 122.0,989.8 131.4,992.9 145.1,1012.8 161.5,1024.4 172.3,1021.3 186.8,1019.7 198.0,1017.3"/><path d="M96.5 1034.0L102.5 1044.4L90.5 1044.4Z" fill="#000"/><path d="M103.9 1024.9L109.9 1035.3L97.9 1035.3Z" fill="#000"/><path d="M113.8 1005.6L119.8 1016.0L107.8 1016.0Z" fill="#000"/><path d="M122.0 984.2L128.0 994.6L116.0 994.6Z" fill="#000"/><path d="M131.4 987.3L137.4 997.7L125.4 997.7Z" fill="#000"/><path d="M145.1 1007.2L151.1 1017.6L139.1 1017.6Z" fill="#000"/><path d="M161.5 1018.8L167.5 1029.2L155.5 1029.2Z" fill="#000"/><path d="M172.3 1015.7L178.3 1026.1L166.3 1026.1Z" fill="#000"/><path d="M186.8 1014.1L192.8 1024.5L180.8 1024.5Z" fill="#000"/><path d="M198.0 1011.7L204.0 1022.1L192.0 1022.1Z" fill="#000"/>
<polyline fill="none" stroke="#1c1c1c" stroke-width="1.90" stroke-linejoin="round" points="108.0,1114.0 135.2,1129.2 164.9,1132.2 193.5,1131.5 222.5,1130.5 249.1,1129.1 275.6,1127.6 302.3,1126.8 327.5,1125.9 353.0,1125.9 376.6,1125.3 401.7,1125.2"/><path d="M108.0 1108.4L114.0 1118.8L102.0 1118.8Z" fill="#fff" stroke="#555" stroke-width="0.85"/><path d="M135.2 1123.6L141.2 1134.0L129.2 1134.0Z" fill="#fff" stroke="#555" stroke-width="0.85"/><path d="M164.9 1126.6L170.9 1137.0L158.9 1137.0Z" fill="#fff" stroke="#555" stroke-width="0.85"/><path d="M193.5 1125.9L199.5 1136.3L187.5 1136.3Z" fill="#fff" stroke="#555" stroke-width="0.85"/><path d="M222.5 1124.9L228.5 1135.3L216.5 1135.3Z" fill="#fff" stroke="#555" stroke-width="0.85"/><path d="M249.1 1123.5L255.1 1133.9L243.1 1133.9Z" fill="#fff" stroke="#555" stroke-width="0.85"/><path d="M275.6 1122.0L281.6 1132.4L269.6 1132.4Z" fill="#fff" stroke="#555" stroke-width="0.85"/><path d="M302.3 1121.2L308.3 1131.6L296.3 1131.6Z" fill="#fff" stroke="#555" stroke-width="0.85"/><path d="M327.5 1120.3L333.5 1130.7L321.5 1130.7Z" fill="#fff" stroke="#555" stroke-width="0.85"/><path d="M353.0 1120.3L359.0 1130.7L347.0 1130.7Z" fill="#fff" stroke="#555" stroke-width="0.85"/><path d="M376.6 1119.7L382.6 1130.1L370.6 1130.1Z" fill="#fff" stroke="#555" stroke-width="0.85"/><path d="M401.7 1119.6L407.7 1130.0L395.7 1130.0Z" fill="#fff" stroke="#555" stroke-width="0.85"/>
<polyline fill="none" stroke="#e3283a" stroke-width="1.75" stroke-linejoin="round" points="94.0,926.2 101.4,924.9 110.0,922.8 117.9,920.2 126.1,917.5 134.0,915.9 141.8,910.8 151.0,912.8 157.9,904.8 163.9,894.1 169.6,884.2 173.9,870.5 178.2,854.8 182.0,840.6 183.9,824.4"/><circle cx="94.0" cy="926.2" r="5.1" fill="#fff" stroke="#ec3344" stroke-width="0.9"/><path d="M92.2 926.2h3.6M94.0 924.4v3.6" stroke="#ec3344" stroke-width="1" fill="none"/><circle cx="101.4" cy="924.9" r="5.1" fill="#fff" stroke="#ec3344" stroke-width="0.9"/><path d="M99.6 924.9h3.6M101.4 923.1v3.6" stroke="#ec3344" stroke-width="1" fill="none"/><circle cx="110.0" cy="922.8" r="5.1" fill="#fff" stroke="#ec3344" stroke-width="0.9"/><path d="M108.2 922.8h3.6M110.0 921.0v3.6" stroke="#ec3344" stroke-width="1" fill="none"/><circle cx="117.9" cy="920.2" r="5.1" fill="#fff" stroke="#ec3344" stroke-width="0.9"/><path d="M116.1 920.2h3.6M117.9 918.4v3.6" stroke="#ec3344" stroke-width="1" fill="none"/><circle cx="126.1" cy="917.5" r="5.1" fill="#fff" stroke="#ec3344" stroke-width="0.9"/><path d="M124.3 917.5h3.6M126.1 915.7v3.6" stroke="#ec3344" stroke-width="1" fill="none"/><circle cx="134.0" cy="915.9" r="5.1" fill="#fff" stroke="#ec3344" stroke-width="0.9"/><path d="M132.2 915.9h3.6M134.0 914.1v3.6" stroke="#ec3344" stroke-width="1" fill="none"/><circle cx="141.8" cy="910.8" r="5.1" fill="#fff" stroke="#ec3344" stroke-width="0.9"/><path d="M140.0 910.8h3.6M141.8 909.0v3.6" stroke="#ec3344" stroke-width="1" fill="none"/><circle cx="151.0" cy="912.8" r="5.1" fill="#fff" stroke="#ec3344" stroke-width="0.9"/><path d="M149.2 912.8h3.6M151.0 911.0v3.6" stroke="#ec3344" stroke-width="1" fill="none"/><circle cx="157.9" cy="904.8" r="5.1" fill="#fff" stroke="#ec3344" stroke-width="0.9"/><path d="M156.1 904.8h3.6M157.9 903.0v3.6" stroke="#ec3344" stroke-width="1" fill="none"/><circle cx="163.9" cy="894.1" r="5.1" fill="#fff" stroke="#ec3344" stroke-width="0.9"/><path d="M162.1 894.1h3.6M163.9 892.3v3.6" stroke="#ec3344" stroke-width="1" fill="none"/><circle cx="169.6" cy="884.2" r="5.1" fill="#fff" stroke="#ec3344" stroke-width="0.9"/><path d="M167.8 884.2h3.6M169.6 882.4v3.6" stroke="#ec3344" stroke-width="1" fill="none"/><circle cx="173.9" cy="870.5" r="5.1" fill="#fff" stroke="#ec3344" stroke-width="0.9"/><path d="M172.1 870.5h3.6M173.9 868.7v3.6" stroke="#ec3344" stroke-width="1" fill="none"/><circle cx="178.2" cy="854.8" r="5.1" fill="#fff" stroke="#ec3344" stroke-width="0.9"/><path d="M176.4 854.8h3.6M178.2 853.0v3.6" stroke="#ec3344" stroke-width="1" fill="none"/><circle cx="182.0" cy="840.6" r="5.1" fill="#fff" stroke="#ec3344" stroke-width="0.9"/><path d="M180.2 840.6h3.6M182.0 838.8v3.6" stroke="#ec3344" stroke-width="1" fill="none"/><circle cx="183.9" cy="824.4" r="5.1" fill="#fff" stroke="#ec3344" stroke-width="0.9"/><path d="M182.1 824.4h3.6M183.9 822.6v3.6" stroke="#ec3344" stroke-width="1" fill="none"/>
<polyline fill="none" stroke="#e3283a" stroke-width="1.75" stroke-linejoin="round" points="103.9,1144.7 128.1,1144.1 156.6,1142.6 184.1,1140.3 210.7,1137.6 233.8,1134.7 254.1,1132.0 273.4,1129.7 292.6,1128.7 315.0,1129.0 339.0,1130.0 362.3,1131.1 384.4,1131.9 404.6,1132.4 423.1,1132.7"/><circle cx="103.9" cy="1144.7" r="5.4" fill="#f40b0b"/><circle cx="128.1" cy="1144.1" r="5.4" fill="#f40b0b"/><circle cx="156.6" cy="1142.6" r="5.4" fill="#f40b0b"/><circle cx="184.1" cy="1140.3" r="5.4" fill="#f40b0b"/><circle cx="210.7" cy="1137.6" r="5.4" fill="#f40b0b"/><circle cx="233.8" cy="1134.7" r="5.4" fill="#f40b0b"/><circle cx="254.1" cy="1132.0" r="5.4" fill="#f40b0b"/><circle cx="273.4" cy="1129.7" r="5.4" fill="#f40b0b"/><circle cx="292.6" cy="1128.7" r="5.4" fill="#f40b0b"/><circle cx="315.0" cy="1129.0" r="5.4" fill="#f40b0b"/><circle cx="339.0" cy="1130.0" r="5.4" fill="#f40b0b"/><circle cx="362.3" cy="1131.1" r="5.4" fill="#f40b0b"/><circle cx="384.4" cy="1131.9" r="5.4" fill="#f40b0b"/><circle cx="404.6" cy="1132.4" r="5.4" fill="#f40b0b"/><circle cx="423.1" cy="1132.7" r="5.4" fill="#f40b0b"/>
<polyline fill="none" stroke="#e3283a" stroke-width="1.75" stroke-linejoin="round" points="105.5,1142.6 130.9,1141.4 157.6,1139.4 183.3,1136.7 206.0,1133.7 225.8,1130.7 243.0,1128.3 259.0,1126.6 274.5,1125.5 290.0,1125.4 306.9,1126.0 324.8,1127.1 342.3,1128.1 358.8,1129.3 375.0,1130.3"/><circle cx="105.5" cy="1142.6" r="5" fill="#fff" stroke="#ec3344" stroke-width="1"/><circle cx="130.9" cy="1141.4" r="5" fill="#fff" stroke="#ec3344" stroke-width="1"/><circle cx="157.6" cy="1139.4" r="5" fill="#fff" stroke="#ec3344" stroke-width="1"/><circle cx="183.3" cy="1136.7" r="5" fill="#fff" stroke="#ec3344" stroke-width="1"/><circle cx="206.0" cy="1133.7" r="5" fill="#fff" stroke="#ec3344" stroke-width="1"/><circle cx="225.8" cy="1130.7" r="5" fill="#fff" stroke="#ec3344" stroke-width="1"/><circle cx="243.0" cy="1128.3" r="5" fill="#fff" stroke="#ec3344" stroke-width="1"/><circle cx="259.0" cy="1126.6" r="5" fill="#fff" stroke="#ec3344" stroke-width="1"/><circle cx="274.5" cy="1125.5" r="5" fill="#fff" stroke="#ec3344" stroke-width="1"/><circle cx="290.0" cy="1125.4" r="5" fill="#fff" stroke="#ec3344" stroke-width="1"/><circle cx="306.9" cy="1126.0" r="5" fill="#fff" stroke="#ec3344" stroke-width="1"/><circle cx="324.8" cy="1127.1" r="5" fill="#fff" stroke="#ec3344" stroke-width="1"/><circle cx="342.3" cy="1128.1" r="5" fill="#fff" stroke="#ec3344" stroke-width="1"/><circle cx="358.8" cy="1129.3" r="5" fill="#fff" stroke="#ec3344" stroke-width="1"/><circle cx="375.0" cy="1130.3" r="5" fill="#fff" stroke="#ec3344" stroke-width="1"/>
<polyline fill="none" stroke="#3358e2" stroke-width="1.75" stroke-linejoin="round" points="94.3,971.7 104.2,972.4 113.7,969.7 122.8,967.0 131.7,960.3 140.4,952.3 148.8,944.9 156.2,937.6 164.2,932.2 178.0,916.2 184.5,910.1 191.0,905.4 198.3,900.8 204.3,892.7"/><rect x="89.1" y="966.5" width="10.4" height="10.4" fill="#fff" stroke="#4a68e6" stroke-width="0.9"/><path d="M89.1 971.7h10.4M94.3 966.5v10.4" stroke="#4a68e6" stroke-width="0.9" fill="none"/><rect x="99.0" y="967.2" width="10.4" height="10.4" fill="#fff" stroke="#4a68e6" stroke-width="0.9"/><path d="M99.0 972.4h10.4M104.2 967.2v10.4" stroke="#4a68e6" stroke-width="0.9" fill="none"/><rect x="108.5" y="964.5" width="10.4" height="10.4" fill="#fff" stroke="#4a68e6" stroke-width="0.9"/><path d="M108.5 969.7h10.4M113.7 964.5v10.4" stroke="#4a68e6" stroke-width="0.9" fill="none"/><rect x="117.6" y="961.8" width="10.4" height="10.4" fill="#fff" stroke="#4a68e6" stroke-width="0.9"/><path d="M117.6 967.0h10.4M122.8 961.8v10.4" stroke="#4a68e6" stroke-width="0.9" fill="none"/><rect x="126.5" y="955.1" width="10.4" height="10.4" fill="#fff" stroke="#4a68e6" stroke-width="0.9"/><path d="M126.5 960.3h10.4M131.7 955.1v10.4" stroke="#4a68e6" stroke-width="0.9" fill="none"/><rect x="135.2" y="947.1" width="10.4" height="10.4" fill="#fff" stroke="#4a68e6" stroke-width="0.9"/><path d="M135.2 952.3h10.4M140.4 947.1v10.4" stroke="#4a68e6" stroke-width="0.9" fill="none"/><rect x="143.6" y="939.7" width="10.4" height="10.4" fill="#fff" stroke="#4a68e6" stroke-width="0.9"/><path d="M143.6 944.9h10.4M148.8 939.7v10.4" stroke="#4a68e6" stroke-width="0.9" fill="none"/><rect x="151.0" y="932.4" width="10.4" height="10.4" fill="#fff" stroke="#4a68e6" stroke-width="0.9"/><path d="M151.0 937.6h10.4M156.2 932.4v10.4" stroke="#4a68e6" stroke-width="0.9" fill="none"/><rect x="159.0" y="927.0" width="10.4" height="10.4" fill="#fff" stroke="#4a68e6" stroke-width="0.9"/><path d="M159.0 932.2h10.4M164.2 927.0v10.4" stroke="#4a68e6" stroke-width="0.9" fill="none"/><rect x="172.8" y="911.0" width="10.4" height="10.4" fill="#fff" stroke="#4a68e6" stroke-width="0.9"/><path d="M172.8 916.2h10.4M178.0 911.0v10.4" stroke="#4a68e6" stroke-width="0.9" fill="none"/><rect x="179.3" y="904.9" width="10.4" height="10.4" fill="#fff" stroke="#4a68e6" stroke-width="0.9"/><path d="M179.3 910.1h10.4M184.5 904.9v10.4" stroke="#4a68e6" stroke-width="0.9" fill="none"/><rect x="185.8" y="900.2" width="10.4" height="10.4" fill="#fff" stroke="#4a68e6" stroke-width="0.9"/><path d="M185.8 905.4h10.4M191.0 900.2v10.4" stroke="#4a68e6" stroke-width="0.9" fill="none"/><rect x="193.1" y="895.6" width="10.4" height="10.4" fill="#fff" stroke="#4a68e6" stroke-width="0.9"/><path d="M193.1 900.8h10.4M198.3 895.6v10.4" stroke="#4a68e6" stroke-width="0.9" fill="none"/><rect x="199.1" y="887.5" width="10.4" height="10.4" fill="#fff" stroke="#4a68e6" stroke-width="0.9"/><path d="M199.1 892.7h10.4M204.3 887.5v10.4" stroke="#4a68e6" stroke-width="0.9" fill="none"/>
<polyline fill="none" stroke="#3358e2" stroke-width="1.75" stroke-linejoin="round" points="102.2,1139.3 125.7,1139.6 153.4,1139.2 183.0,1140.3 215.7,1141.5 246.7,1140.8 274.6,1139.6 300.9,1138.2 325.6,1137.2 349.7,1136.7 371.9,1135.8 393.7,1135.0 413.9,1134.3 433.3,1133.5 452.3,1132.9"/><rect x="96.6" y="1133.7" width="11.2" height="11.2" fill="#0540f0"/><rect x="120.1" y="1134.0" width="11.2" height="11.2" fill="#0540f0"/><rect x="147.8" y="1133.6" width="11.2" height="11.2" fill="#0540f0"/><rect x="177.4" y="1134.7" width="11.2" height="11.2" fill="#0540f0"/><rect x="210.1" y="1135.9" width="11.2" height="11.2" fill="#0540f0"/><rect x="241.1" y="1135.2" width="11.2" height="11.2" fill="#0540f0"/><rect x="269.0" y="1134.0" width="11.2" height="11.2" fill="#0540f0"/><rect x="295.3" y="1132.6" width="11.2" height="11.2" fill="#0540f0"/><rect x="320.0" y="1131.6" width="11.2" height="11.2" fill="#0540f0"/><rect x="344.1" y="1131.1" width="11.2" height="11.2" fill="#0540f0"/><rect x="366.3" y="1130.2" width="11.2" height="11.2" fill="#0540f0"/><rect x="388.1" y="1129.4" width="11.2" height="11.2" fill="#0540f0"/><rect x="408.3" y="1128.7" width="11.2" height="11.2" fill="#0540f0"/><rect x="427.7" y="1127.9" width="11.2" height="11.2" fill="#0540f0"/><rect x="446.7" y="1127.3" width="11.2" height="11.2" fill="#0540f0"/>
<polyline fill="none" stroke="#3358e2" stroke-width="1.75" stroke-linejoin="round" points="111.5,1143.9 146.6,1155.3 182.6,1155.3 220.0,1155.0 256.2,1154.1 290.9,1153.3 323.6,1152.8 353.6,1153.0 381.7,1153.1 407.9,1153.3"/><rect x="106.2" y="1138.6" width="10.6" height="10.6" fill="#fff" stroke="#4a68e6" stroke-width="1"/><rect x="141.3" y="1150.0" width="10.6" height="10.6" fill="#fff" stroke="#4a68e6" stroke-width="1"/><rect x="177.3" y="1150.0" width="10.6" height="10.6" fill="#fff" stroke="#4a68e6" stroke-width="1"/><rect x="214.7" y="1149.7" width="10.6" height="10.6" fill="#fff" stroke="#4a68e6" stroke-width="1"/><rect x="250.9" y="1148.8" width="10.6" height="10.6" fill="#fff" stroke="#4a68e6" stroke-width="1"/><rect x="285.6" y="1148.0" width="10.6" height="10.6" fill="#fff" stroke="#4a68e6" stroke-width="1"/><rect x="318.3" y="1147.5" width="10.6" height="10.6" fill="#fff" stroke="#4a68e6" stroke-width="1"/><rect x="348.3" y="1147.7" width="10.6" height="10.6" fill="#fff" stroke="#4a68e6" stroke-width="1"/><rect x="376.4" y="1147.8" width="10.6" height="10.6" fill="#fff" stroke="#4a68e6" stroke-width="1"/><rect x="402.6" y="1148.0" width="10.6" height="10.6" fill="#fff" stroke="#4a68e6" stroke-width="1"/>
</g>
<g>
<polyline fill="none" stroke="#1c1c1c" stroke-width="1.50" stroke-linejoin="round" points="503.7,849.3 530.9,940.8 560.6,959.0 589.2,954.8 618.2,948.5 644.8,940.0 671.3,931.4 698.0,926.4 723.2,920.8 748.7,920.8 772.3,917.4 797.4,916.9"/><path d="M503.7 843.7L509.7 854.1L497.7 854.1Z" fill="#fff" stroke="#555" stroke-width="0.85"/><path d="M530.9 935.2L536.9 945.6L524.9 945.6Z" fill="#fff" stroke="#555" stroke-width="0.85"/><path d="M560.6 953.4L566.6 963.8L554.6 963.8Z" fill="#fff" stroke="#555" stroke-width="0.85"/><path d="M589.2 949.2L595.2 959.6L583.2 959.6Z" fill="#fff" stroke="#555" stroke-width="0.85"/><path d="M618.2 942.9L624.2 953.3L612.2 953.3Z" fill="#fff" stroke="#555" stroke-width="0.85"/><path d="M644.8 934.4L650.8 944.8L638.8 944.8Z" fill="#fff" stroke="#555" stroke-width="0.85"/><path d="M671.3 925.8L677.3 936.2L665.3 936.2Z" fill="#fff" stroke="#555" stroke-width="0.85"/><path d="M698.0 920.8L704.0 931.2L692.0 931.2Z" fill="#fff" stroke="#555" stroke-width="0.85"/><path d="M723.2 915.2L729.2 925.6L717.2 925.6Z" fill="#fff" stroke="#555" stroke-width="0.85"/><path d="M748.7 915.2L754.7 925.6L742.7 925.6Z" fill="#fff" stroke="#555" stroke-width="0.85"/><path d="M772.3 911.8L778.3 922.2L766.3 922.2Z" fill="#fff" stroke="#555" stroke-width="0.85"/><path d="M797.4 911.3L803.4 921.7L791.4 921.7Z" fill="#fff" stroke="#555" stroke-width="0.85"/>
<polyline fill="none" stroke="#e3283a" stroke-width="1.75" stroke-linejoin="round" points="499.6,1033.8 523.8,1030.6 552.3,1021.6 579.8,1007.5 606.4,991.6 629.5,974.0 649.8,957.6 669.1,943.7 688.3,937.8 710.7,939.4 734.7,945.7 758.0,952.0 780.1,957.0 800.3,959.8 818.8,961.6"/><circle cx="499.6" cy="1033.8" r="5.4" fill="#f40b0b"/><circle cx="523.8" cy="1030.6" r="5.4" fill="#f40b0b"/><circle cx="552.3" cy="1021.6" r="5.4" fill="#f40b0b"/><circle cx="579.8" cy="1007.5" r="5.4" fill="#f40b0b"/><circle cx="606.4" cy="991.6" r="5.4" fill="#f40b0b"/><circle cx="629.5" cy="974.0" r="5.4" fill="#f40b0b"/><circle cx="649.8" cy="957.6" r="5.4" fill="#f40b0b"/><circle cx="669.1" cy="943.7" r="5.4" fill="#f40b0b"/><circle cx="688.3" cy="937.8" r="5.4" fill="#f40b0b"/><circle cx="710.7" cy="939.4" r="5.4" fill="#f40b0b"/><circle cx="734.7" cy="945.7" r="5.4" fill="#f40b0b"/><circle cx="758.0" cy="952.0" r="5.4" fill="#f40b0b"/><circle cx="780.1" cy="957.0" r="5.4" fill="#f40b0b"/><circle cx="800.3" cy="959.8" r="5.4" fill="#f40b0b"/><circle cx="818.8" cy="961.6" r="5.4" fill="#f40b0b"/>
<polyline fill="none" stroke="#e3283a" stroke-width="1.75" stroke-linejoin="round" points="501.2,1021.6 526.6,1014.1 553.3,1002.4 579.0,986.0 601.7,967.7 621.5,949.7 638.7,935.6 654.7,925.5 670.2,918.9 685.7,918.1 702.6,921.9 720.5,928.3 738.0,934.4 754.5,941.2 770.7,947.3"/><circle cx="501.2" cy="1021.6" r="5" fill="#fff" stroke="#ec3344" stroke-width="1"/><circle cx="526.6" cy="1014.1" r="5" fill="#fff" stroke="#ec3344" stroke-width="1"/><circle cx="553.3" cy="1002.4" r="5" fill="#fff" stroke="#ec3344" stroke-width="1"/><circle cx="579.0" cy="986.0" r="5" fill="#fff" stroke="#ec3344" stroke-width="1"/><circle cx="601.7" cy="967.7" r="5" fill="#fff" stroke="#ec3344" stroke-width="1"/><circle cx="621.5" cy="949.7" r="5" fill="#fff" stroke="#ec3344" stroke-width="1"/><circle cx="638.7" cy="935.6" r="5" fill="#fff" stroke="#ec3344" stroke-width="1"/><circle cx="654.7" cy="925.5" r="5" fill="#fff" stroke="#ec3344" stroke-width="1"/><circle cx="670.2" cy="918.9" r="5" fill="#fff" stroke="#ec3344" stroke-width="1"/><circle cx="685.7" cy="918.1" r="5" fill="#fff" stroke="#ec3344" stroke-width="1"/><circle cx="702.6" cy="921.9" r="5" fill="#fff" stroke="#ec3344" stroke-width="1"/><circle cx="720.5" cy="928.3" r="5" fill="#fff" stroke="#ec3344" stroke-width="1"/><circle cx="738.0" cy="934.4" r="5" fill="#fff" stroke="#ec3344" stroke-width="1"/><circle cx="754.5" cy="941.2" r="5" fill="#fff" stroke="#ec3344" stroke-width="1"/><circle cx="770.7" cy="947.3" r="5" fill="#fff" stroke="#ec3344" stroke-width="1"/>
<polyline fill="none" stroke="#3358e2" stroke-width="1.75" stroke-linejoin="round" points="497.9,1001.7 521.4,1003.6 549.1,1001.0 578.7,1007.6 611.4,1014.6 642.4,1010.4 670.3,1003.4 696.6,994.9 721.3,989.2 745.4,985.8 767.6,980.8 789.4,975.8 809.6,971.8 829.0,966.8 848.0,963.2"/><rect x="492.3" y="996.1" width="11.2" height="11.2" fill="#0540f0"/><rect x="515.8" y="998.0" width="11.2" height="11.2" fill="#0540f0"/><rect x="543.5" y="995.4" width="11.2" height="11.2" fill="#0540f0"/><rect x="573.1" y="1002.0" width="11.2" height="11.2" fill="#0540f0"/><rect x="605.8" y="1009.0" width="11.2" height="11.2" fill="#0540f0"/><rect x="636.8" y="1004.8" width="11.2" height="11.2" fill="#0540f0"/><rect x="664.7" y="997.8" width="11.2" height="11.2" fill="#0540f0"/><rect x="691.0" y="989.3" width="11.2" height="11.2" fill="#0540f0"/><rect x="715.7" y="983.6" width="11.2" height="11.2" fill="#0540f0"/><rect x="739.8" y="980.2" width="11.2" height="11.2" fill="#0540f0"/><rect x="762.0" y="975.2" width="11.2" height="11.2" fill="#0540f0"/><rect x="783.8" y="970.2" width="11.2" height="11.2" fill="#0540f0"/><rect x="804.0" y="966.2" width="11.2" height="11.2" fill="#0540f0"/><rect x="823.4" y="961.2" width="11.2" height="11.2" fill="#0540f0"/><rect x="842.4" y="957.6" width="11.2" height="11.2" fill="#0540f0"/>
<polyline fill="none" stroke="#3358e2" stroke-width="1.75" stroke-linejoin="round" points="507.2,1029.4 542.3,1097.8 578.3,1097.8 615.7,1096.0 651.9,1090.8 686.6,1085.7 719.3,1082.8 749.3,1083.9 777.4,1084.6 803.6,1085.7"/><rect x="501.9" y="1024.1" width="10.6" height="10.6" fill="#fff" stroke="#4a68e6" stroke-width="1"/><rect x="537.0" y="1092.5" width="10.6" height="10.6" fill="#fff" stroke="#4a68e6" stroke-width="1"/><rect x="573.0" y="1092.5" width="10.6" height="10.6" fill="#fff" stroke="#4a68e6" stroke-width="1"/><rect x="610.4" y="1090.7" width="10.6" height="10.6" fill="#fff" stroke="#4a68e6" stroke-width="1"/><rect x="646.6" y="1085.5" width="10.6" height="10.6" fill="#fff" stroke="#4a68e6" stroke-width="1"/><rect x="681.3" y="1080.4" width="10.6" height="10.6" fill="#fff" stroke="#4a68e6" stroke-width="1"/><rect x="714.0" y="1077.5" width="10.6" height="10.6" fill="#fff" stroke="#4a68e6" stroke-width="1"/><rect x="744.0" y="1078.6" width="10.6" height="10.6" fill="#fff" stroke="#4a68e6" stroke-width="1"/><rect x="772.1" y="1079.3" width="10.6" height="10.6" fill="#fff" stroke="#4a68e6" stroke-width="1"/><rect x="798.3" y="1080.4" width="10.6" height="10.6" fill="#fff" stroke="#4a68e6" stroke-width="1"/>
</g>
<g font-family="'Liberation Sans', sans-serif" fill="#1a1a1a"><text x="79.6" y="409.6" text-anchor="end" font-size="23.0" >0.0</text><text x="79.6" y="299.4" text-anchor="end" font-size="23.0" >0.5</text><text x="79.6" y="189.2" text-anchor="end" font-size="23.0" >1.0</text><text x="79.6" y="79.0" text-anchor="end" font-size="23.0" >1.5</text><text x="79.6" y="695.4" text-anchor="end" font-size="23.0" >0.5</text><text x="79.6" y="585.5" text-anchor="end" font-size="23.0" >1.0</text><text x="79.6" y="475.5" text-anchor="end" font-size="23.0" >1.5</text><text x="79.6" y="1200.5" text-anchor="end" font-size="23.0" >0.0</text><text x="79.6" y="1090.8" text-anchor="end" font-size="23.0" >0.5</text><text x="79.6" y="981.2" text-anchor="end" font-size="23.0" >1.0</text><text x="79.6" y="871.5" text-anchor="end" font-size="23.0" >1.5</text><text x="79.6" y="805.2" text-anchor="end" font-size="23.0" >0.0</text><text x="891.0" y="1200.8" text-anchor="start" font-size="23.0" >0.1</text><text x="891.0" y="1069.0" text-anchor="start" font-size="23.0" >0.2</text><text x="891.0" y="937.2" text-anchor="start" font-size="23.0" >0.3</text><text x="891.0" y="805.3" text-anchor="start" font-size="23.0" >0.4</text><text x="89.3" y="1224.0" text-anchor="middle" font-size="23.0" >0</text><text x="212.8" y="1224.0" text-anchor="middle" font-size="23.0" >1000</text><text x="336.3" y="1224.0" text-anchor="middle" font-size="23.0" >2000</text><text x="459.8" y="1224.0" text-anchor="middle" font-size="23.0" >3000</text><text x="608.5" y="1224.0" text-anchor="middle" font-size="23.0" >1000</text><text x="732.0" y="1224.0" text-anchor="middle" font-size="23.0" >2000</text><text x="855.5" y="1224.0" text-anchor="middle" font-size="23.0" >3000</text><text x="460.4" y="61.7" text-anchor="end" font-size="23.6" >(a)</text><text x="850.4" y="61.7" text-anchor="end" font-size="23.6" >(b)</text><text x="460.4" y="440.1" text-anchor="end" font-size="23.6" >(c)</text><text x="850.4" y="440.1" text-anchor="end" font-size="23.6" >(d)</text><text x="460.4" y="844.3" text-anchor="end" font-size="23.6" >(e)</text><text x="850.4" y="844.3" text-anchor="end" font-size="23.6" >(f)</text><text x="490.3" y="1271.8" text-anchor="middle" font-size="23.6" >Current density [ mA/cm<tspan dx="1" dy="-15.3" font-size="16">2</tspan><tspan dy="15.3"> ]</tspan></text><text transform="translate(22.6,203) rotate(-90)" text-anchor="middle" font-size="23.8">iR-corrected voltage [ V ]</text><text transform="translate(22.2,599.5) rotate(-90)" text-anchor="middle" font-size="23.8">Voltage [ V ]</text><text transform="translate(32,997.3) rotate(-90)" text-anchor="middle" font-size="23.8">ASR [ Ω cm<tspan dx="1" dy="-15.3" font-size="16">2</tspan><tspan dy="15.3"> ]</tspan></text><text transform="translate(942.3,995.4) rotate(90)" text-anchor="middle" font-size="23.8">ASR [ Ω cm<tspan dx="1" dy="-15.3" font-size="16">2</tspan><tspan dy="15.3"> ]</tspan></text></g>
</g>
</svg></body></html>
